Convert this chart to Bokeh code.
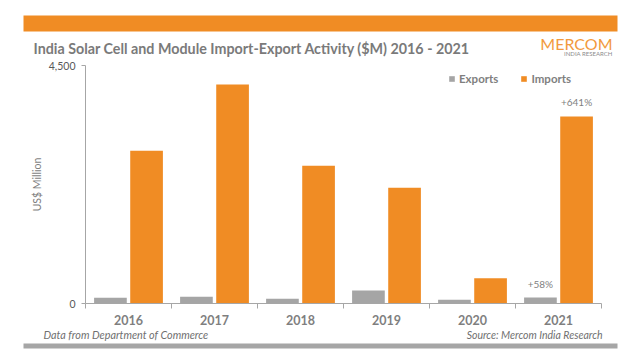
from bokeh.plotting import figure
from bokeh.layouts import column
from bokeh.models import (ColumnDataSource, Range1d, FixedTicker, Label, BoxAnnotation, LabelSet,
                          NumeralTickFormatter, Legend, LegendItem)
from bokeh.transform import dodge
from bokeh.core.properties import value
from bokeh.embed import file_html
from bokeh.resources import INLINE

years = ["2016", "2017", "2018", "2019", "2020", "2021"]
exports = [110, 128, 90, 245, 72, 114]
imports = [2890, 4140, 2605, 2190, 477, 3535]
export_notes = ["", "", "", "", "", "+58%"]
import_notes = ["", "", "", "", "", "+641%"]
y_ticks = [0, 4500]

ORANGE = "#F08C24"
GREY = "#A5A5A5"
AXIS = "#A6A6A6"
TXT = "#7F7F7F"
FONT = "Lato"
W = 642

n = len(years)
pos = [i + 0.5 for i in range(n)]
src = ColumnDataSource(dict(pos=pos, year=years, exports=exports, imports=imports,
                            enote=export_notes, inote=import_notes))


def no_align(fig):
    if "frame_align" in fig.properties():
        fig.frame_align = False
    return fig


def plain(fig):
    fig.outline_line_color = None
    fig.grid.visible = False
    return no_align(fig)


# ---------- header strip ----------
TOP_H = 58
top = plain(figure(width=W, height=TOP_H, output_backend="svg", toolbar_location=None,
                   x_range=Range1d(0, W), y_range=Range1d(TOP_H, 0),
                   min_border=0, x_axis_location=None, y_axis_location=None))
top.add_layout(BoxAnnotation(left=23, right=617, top=15, bottom=31, fill_color=ORANGE,
                             fill_alpha=1, line_color=None))
top.add_layout(Label(x=33, y=48, text="India Solar Cell and Module Import-Export Activity ($M) 2016 - 2021",
                     text_font=FONT, text_font_style="bold", text_font_size="14.3px",
                     text_color="#7A7A7A", text_baseline="alphabetic"))
top.add_layout(Label(x=612, y=43, text="MERCOM", text_font=FONT, text_font_size="16px",
                     text_color="#F29A3E", text_align="right", text_baseline="middle"))
top.add_layout(Label(x=612, y=53, text="INDIA RESEARCH", text_font=FONT, text_font_size="6px",
                     text_color="#8C8C8C", text_align="right", text_baseline="middle"))

# ---------- main chart ----------
MAIN_H = 269
p = figure(width=W, height=MAIN_H, output_backend="svg", toolbar_location=None,
           x_range=Range1d(0, n), y_range=Range1d(0, y_ticks[-1]),
           min_border_left=85, min_border_right=41, min_border_top=7, min_border_bottom=24)
p.outline_line_color = None
p.grid.visible = False
no_align(p)

r_exp = p.vbar(x=dodge("pos", -0.21), top="exports", width=0.38, source=src,
               fill_color=GREY, line_color=None)
r_imp = p.vbar(x=dodge("pos", 0.21), top="imports", width=0.38, source=src,
               fill_color=ORANGE, line_color=None)

p.add_layout(LabelSet(x=dodge("pos", -0.21), y="exports", text="enote", source=src, y_offset=7,
                      text_align="center", text_baseline="bottom", text_font=value(FONT),
                      text_font_size="10px", text_color=TXT))
p.add_layout(LabelSet(x=dodge("pos", 0.21), y="imports", text="inote", source=src, y_offset=9,
                      text_align="center", text_baseline="bottom", text_font=value(FONT),
                      text_font_size="10px", text_color=TXT))

ya = p.yaxis[0]
ya.ticker = FixedTicker(ticks=y_ticks, minor_ticks=[])
ya.formatter = NumeralTickFormatter(format="0,0")
ya.axis_line_color = AXIS
ya.major_tick_line_color = AXIS
ya.major_tick_out = 4
ya.major_tick_in = 0
ya.major_label_standoff = 6
ya.major_label_text_font = FONT
ya.major_label_text_font_size = "10.5px"
ya.major_label_text_color = "#595959"
ya.axis_label = "US$ Million"
ya.axis_label_text_font = FONT
ya.axis_label_text_font_style = "normal"
ya.axis_label_text_font_size = "10.5px"
ya.axis_label_text_color = TXT
ya.axis_label_standoff = 3

xa = p.xaxis[0]
xa.ticker = FixedTicker(ticks=pos, minor_ticks=list(range(n + 1)))
xa.major_label_overrides = {pp: y for pp, y in zip(pos, years)}
xa.axis_line_color = AXIS
xa.major_tick_line_color = None
xa.major_tick_out = 5
xa.major_tick_in = 0
xa.minor_tick_line_color = AXIS
xa.minor_tick_out = 5
xa.minor_tick_in = 0
xa.major_label_standoff = 6
xa.major_label_text_font = FONT
xa.major_label_text_font_style = "bold"
xa.major_label_text_font_size = "12.5px"
xa.major_label_text_color = TXT

legend = Legend(items=[LegendItem(label="Exports", renderers=[r_exp]),
                       LegendItem(label="Imports", renderers=[r_imp])],
                orientation="horizontal", location=(363, 218),
                glyph_width=7, glyph_height=7, label_height=12, label_width=10,
                label_standoff=4, spacing=22, padding=0, margin=0,
                border_line_color=None, background_fill_alpha=0,
                label_text_font=FONT, label_text_font_style="bold",
                label_text_font_size="11.5px", label_text_color=TXT)
p.add_layout(legend, "center")

# ---------- footer strip ----------
BOT_H = 359 - TOP_H - MAIN_H
bot = plain(figure(width=W, height=BOT_H, output_backend="svg", toolbar_location=None,
                   x_range=Range1d(0, W), y_range=Range1d(BOT_H, 0),
                   min_border=0, x_axis_location=None, y_axis_location=None))
bot.add_layout(Label(x=43, y=7, text="Data from Department of Commerce", text_font=FONT,
                     text_font_style="italic", text_font_size="10.8px", text_color="#6F6F6F",
                     text_baseline="middle"))
bot.add_layout(Label(x=602, y=7, text="Source: Mercom India Research", text_font=FONT,
                     text_font_style="italic", text_font_size="10.5px", text_color="#6F6F6F",
                     text_align="right", text_baseline="middle"))
bot.add_layout(BoxAnnotation(left=23, right=617, top=16, bottom=21, fill_color=AXIS,
                             fill_alpha=1, line_color=None))

layout = column(top, p, bot, spacing=0)
open("out.html", "w").write(file_html(layout, INLINE))
